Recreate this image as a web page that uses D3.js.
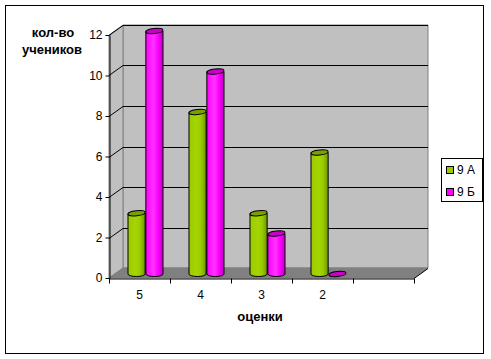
<!DOCTYPE html>
<html><head><meta charset="utf-8">
<script src="https://cdn.jsdelivr.net/npm/d3@7"></script>
<style>body{margin:0;background:#fff}svg{display:block}text{font-family:"Liberation Sans",Arial,sans-serif}</style>
</head><body>
<svg id="c" width="491" height="359"></svg>
<script>
const categories = ["5","4","3","2",""];
const seriesNames = ["9 А","9 Б"];
const seriesA = [3,8,3,6];
const seriesB = [12,10,2,0];
const yTicks = [0,2,4,6,8,10,12];
const yTitle = ["кол-во","учеников"];
const xTitle = "оценки";

const colors = {
  "9 А": {light:"#a6d400", mid:"#99cc00", dark:"#6f9400", top:"#7a9f00"},
  "9 Б": {light:"#ff33ff", mid:"#ff00ff", dark:"#c000c0", top:"#c800c8"}
};

const svg = d3.select("#c");
const defs = svg.append("defs");
seriesNames.forEach((s,i)=>{
  const g = defs.append("linearGradient").attr("id","g"+i).attr("x1","0").attr("x2","1").attr("y1","0").attr("y2","0");
  g.append("stop").attr("offset","0").attr("stop-color",colors[s].mid);
  g.append("stop").attr("offset","0.45").attr("stop-color",colors[s].light);
  g.append("stop").attr("offset","0.7").attr("stop-color",colors[s].mid);
  g.append("stop").attr("offset","1").attr("stop-color",colors[s].dark);
});

// outer border
svg.append("rect").attr("x",5.5).attr("y",5.5).attr("width",478).attr("height",348)
  .attr("fill","#fff").attr("stroke","#000").attr("stroke-width",1);

const x0 = d3.scaleBand().domain(categories).range([109,414]);
const y = d3.scaleLinear().domain([0,12]).range([278,35]);
const DX = 14, DY = -10;       // depth offset to back wall
const BX = 6, BY = -4;         // bar depth offset
const x1 = d3.scaleBand().domain(seriesNames).range([13,48]).paddingInner(0.04);

// back wall
svg.append("path")
  .attr("d",`M${109+DX},${y(0)+DY}L${109+DX},${y(12)+DY}L${414+DX},${y(12)+DY}L${414+DX},${y(0)+DY}Z`)
  .attr("fill","#c0c0c0").attr("stroke","#808080");
// side wall
svg.append("path")
  .attr("d",`M109,${y(0)}L109,${y(12)}L${109+DX},${y(12)+DY}L${109+DX},${y(0)+DY}Z`)
  .attr("fill","#c0c0c0").attr("stroke","#808080");
// floor
svg.append("path")
  .attr("d",`M109,${y(0)}L414,${y(0)}L${414+DX},${y(0)+DY}L${109+DX},${y(0)+DY}Z`)
  .attr("fill","#808080").attr("stroke","#808080");

// gridlines
yTicks.filter(t=>t>0).forEach(t=>{
  svg.append("path").attr("fill","none").attr("stroke","#000")
    .attr("d",`M109,${Math.round(y(t))+0.5}L${109+DX},${Math.round(y(t)+DY)+0.5}L${414+DX},${Math.round(y(t)+DY)+0.5}`);
});
// right floor edge
svg.append("path").attr("fill","none").attr("stroke","#000")
  .attr("d",`M414,${y(0)+0.5}L${414+DX},${y(0)+DY+0.5}`);

// bars
const data = categories.slice(0,4).map((c,i)=>({c, vals:[seriesA[i],seriesB[i]]}));
data.forEach(d=>{
  d.vals.forEach((v,si)=>{
    const s = seriesNames[si];
    const bx = x0(d.c) + x1(s) + BX;
    const w = x1.bandwidth();
    const base = y(0) + BY;
    const top = y(v) + BY;
    const rx = w/2, ry = 2.5;
    const cx = bx + rx;
    const g = svg.append("g");
    if (v > 0) {
      g.append("path")
        .attr("d",`M${bx},${top}L${bx},${base}A${rx},${ry} 0 0 0 ${bx+w},${base}L${bx+w},${top}Z`)
        .attr("fill",`url(#g${si})`).attr("stroke","#000").attr("stroke-width",1);
    }
    g.append("ellipse").attr("cx",cx).attr("cy",top).attr("rx",rx).attr("ry",ry)
      .attr("fill",colors[s].top).attr("stroke","#000").attr("stroke-width",1)
      .attr("transform",`rotate(-6,${cx},${top})`);
  });
});

// y axis
const yAxis = d3.axisLeft(y).tickValues(yTicks).tickSize(4).tickPadding(3).tickSizeOuter(0);
const ya = svg.append("g").attr("transform","translate(109.5,0)").call(yAxis);
ya.selectAll("text").attr("font-size",12).attr("fill","#000").style("font-family","Liberation Sans, Arial, sans-serif");
ya.selectAll("line,path").attr("stroke","#000");

// x axis
const xa = svg.append("g").attr("transform",`translate(0,${y(0)+0.5})`)
  .call(d3.axisBottom(x0).tickSize(0).tickPadding(12));
xa.select(".domain").attr("stroke","#000");
xa.selectAll("text").attr("font-size",12).attr("fill","#000").style("font-family","Liberation Sans, Arial, sans-serif");
const bounds = [109].concat(categories.map(c=>x0(c)+x0.bandwidth()));
xa.selectAll(".bt").data(bounds).enter().append("line").attr("class","bt")
  .attr("x1",d=>Math.round(d)+0.5).attr("x2",d=>Math.round(d)+0.5).attr("y1",0).attr("y2",5).attr("stroke","#000");

// titles
svg.append("text").attr("x",53).attr("y",37).attr("text-anchor","middle").attr("font-size",13).attr("font-weight","bold").text(yTitle[0]);
svg.append("text").attr("x",52).attr("y",54).attr("text-anchor","middle").attr("font-size",13).attr("font-weight","bold").text(yTitle[1]);
svg.append("text").attr("x",260).attr("y",321).attr("text-anchor","middle").attr("font-size",13).attr("font-weight","bold").text(xTitle);

// legend
const lg = svg.append("g");
lg.append("rect").attr("x",441.5).attr("y",158.5).attr("width",41).attr("height",43).attr("fill","#fff").attr("stroke","#000");
seriesNames.forEach((s,i)=>{
  lg.append("rect").attr("x",446.5).attr("y",166.5+i*22).attr("width",7).attr("height",7)
    .attr("fill",colors[s].mid).attr("stroke","#000");
  lg.append("text").attr("x",457).attr("y",174+i*22).attr("font-size",12).text(s);
});
</script>
</body></html>
